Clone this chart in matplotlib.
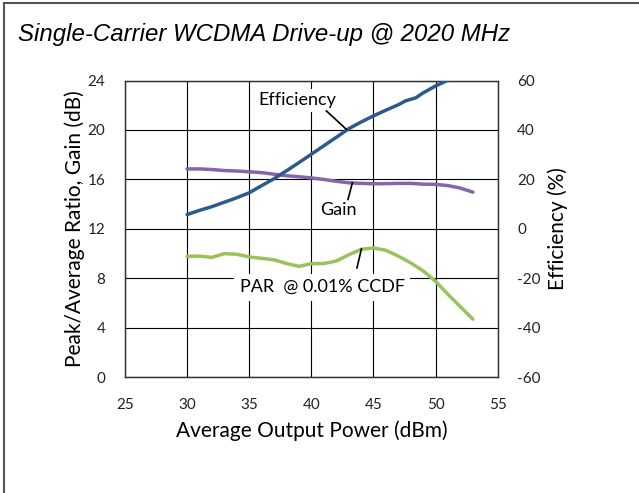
import matplotlib
matplotlib.use("Agg")
import matplotlib.pyplot as plt
from matplotlib.lines import Line2D

plt.rcParams["axes.unicode_minus"] = False

title = "Single-Carrier WCDMA Drive-up @ 2020 MHz"
x_label = "Average Output Power (dBm)"
y_label_left = "Peak/Average Ratio, Gain (dB)"
y_label_right = "Efficiency (%)"

x_ticks = [25, 30, 35, 40, 45, 50, 55]
y_ticks_left = [0, 4, 8, 12, 16, 20, 24]
y_ticks_right = [-60, -40, -20, 0, 20, 40, 60]

eff_x = [30, 31, 32, 33, 34, 35, 36, 37, 38, 39, 40, 41, 42, 43, 44, 45, 46, 47, 47.6, 48.4, 49, 50, 50.9]
eff_y = [5.8, 7.5, 9.0, 10.8, 12.6, 14.6, 17.5, 20.3, 23.5, 26.8, 30.2, 33.6, 37.0, 40.5, 43.2, 45.7,
         48.0, 50.2, 51.8, 53.0, 55.0, 57.8, 59.9]

pwr_x = [30, 31, 32, 33, 34, 35, 36, 37, 38, 39, 40, 41, 42, 43, 44, 45, 46, 47, 48, 49, 50, 51, 52, 53]
gain_y = [16.85, 16.85, 16.8, 16.72, 16.68, 16.62, 16.55, 16.42, 16.3, 16.22, 16.12, 16.0, 15.85, 15.73,
          15.68, 15.65, 15.66, 15.68, 15.68, 15.62, 15.6, 15.5, 15.3, 14.97]
par_y = [9.78, 9.80, 9.70, 10.0, 9.95, 9.73, 9.62, 9.5, 9.2, 8.97, 9.19, 9.2, 9.4, 9.9, 10.35, 10.46,
         10.27, 9.8, 9.25, 8.6, 7.76, 6.7, 5.7, 4.70]

c_eff = "#2B5B8C"
c_gain = "#8566A8"
c_par = "#9BC25A"
lab_font = "Lato"

fig = plt.figure(figsize=(6.39, 4.93), dpi=100)
ax = fig.add_axes([0.1956, 0.2347, 0.5833, 0.602])
ax2 = ax.twinx()

ax.set_xlim(25, 55)
ax.set_ylim(0, 24)
ax2.set_ylim(-60, 60)
ax.set_xticks(x_ticks)
ax.set_yticks(y_ticks_left)
ax2.set_yticks(y_ticks_right)
ax.grid(True, color="black", linewidth=0.8)
ax.set_axisbelow(True)
for a in (ax, ax2):
    for s in a.spines.values():
        s.set_color("#333333")
        s.set_linewidth(0.9)
ax.tick_params(axis="both", length=0, labelsize=11)
ax.tick_params(axis="x", pad=15)
ax.tick_params(axis="y", pad=14)
ax2.tick_params(axis="y", length=0, labelsize=11, pad=14)
for lab in ax.get_xticklabels() + ax.get_yticklabels() + ax2.get_yticklabels():
    lab.set_fontfamily(lab_font)
    lab.set_color("#222222")

ax.plot(pwr_x, gain_y, color=c_gain, linewidth=2.5, solid_capstyle="round", zorder=3)
ax.plot(pwr_x, par_y, color=c_par, linewidth=2.5, solid_capstyle="round", zorder=3)
ax2.plot(eff_x, eff_y, color=c_eff, linewidth=2.5, solid_capstyle="round", zorder=3)

ax.set_xlabel(x_label, fontfamily=lab_font, fontsize=15, labelpad=6)
ax.set_ylabel(y_label_left, fontfamily=lab_font, fontsize=15, labelpad=2)
ax2.set_ylabel(y_label_right, fontfamily=lab_font, fontsize=15, labelpad=5)

bbox = dict(boxstyle="square,pad=0.2", facecolor="white", edgecolor="none")
ax2.text(38.9, 22.4 * 5 - 60, "Efficiency", fontfamily=lab_font, fontsize=13, ha="center", va="center",
         bbox=bbox, zorder=4)
ax.text(42.2, 13.5, "Gain", fontfamily=lab_font, fontsize=13, ha="center", va="center", zorder=4)
ax.text(40.89, 7.28, "PAR  @ 0.01% CCDF", fontfamily=lab_font, fontsize=13, ha="center", va="center",
        bbox=dict(boxstyle="square,pad=0.3", facecolor="white", edgecolor="none"), zorder=4)
ax2.plot([41.21, 42.81], [21.54 * 5 - 60, 20.06 * 5 - 60], color="black", linewidth=1.2, zorder=5)
ax.plot([43.30, 42.95], [15.73, 14.38], color="black", linewidth=1.2, zorder=5)
ax.plot([44.03, 43.67], [10.38, 8.84], color="black", linewidth=1.2, zorder=5)

fig.text(0.028, 0.93, title, fontfamily="Liberation Sans", fontstyle="italic", fontsize=17.3,
         ha="left", va="center")

fig.add_artist(Line2D([0.0055, 0.0055], [0, 0.994], transform=fig.transFigure, color="#555555", linewidth=1.5))
fig.add_artist(Line2D([0.0055, 1.0], [0.994, 0.994], transform=fig.transFigure, color="#555555", linewidth=1.5))

fig.savefig("out.png", dpi=100)
